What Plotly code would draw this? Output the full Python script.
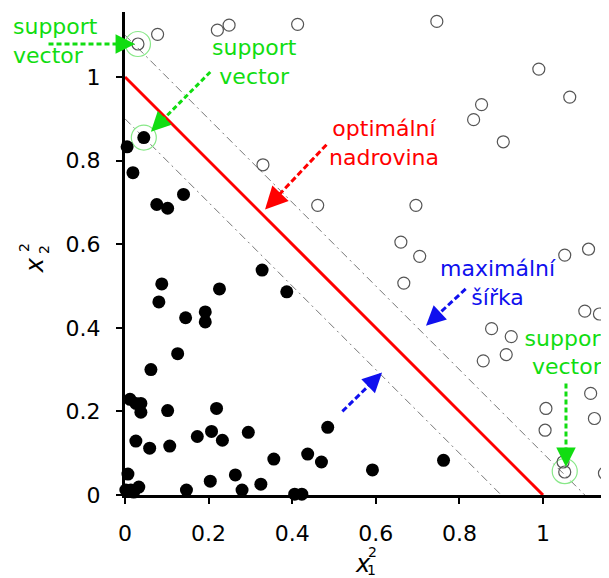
import math
import plotly.graph_objects as go

# ---------------- data ----------------
class1_x = [0.005, 0.045, 0.019, 0.076, 0.102, 0.140, 0.328, 0.387, 0.088, 0.081, 0.226, 0.145,
            0.192, 0.192, 0.126, 0.062, 0.012, 0.026, 0.038, 0.038, 0.102, 0.219, 0.026, 0.059,
            0.107, 0.173, 0.207, 0.233, 0.007, 0.204, 0.147, 0.002, 0.014, 0.021, 0.033, 0.264,
            0.295, 0.485, 0.356, 0.437, 0.470, 0.280, 0.325, 0.406, 0.423, 0.592, 0.762]
class1_y = [0.833, 0.855, 0.771, 0.695, 0.686, 0.719, 0.538, 0.486, 0.505, 0.462, 0.493, 0.424,
            0.438, 0.414, 0.338, 0.300, 0.229, 0.219, 0.219, 0.198, 0.202, 0.207, 0.129, 0.112,
            0.117, 0.140, 0.152, 0.131, 0.050, 0.033, 0.012, 0.012, 0.012, 0.007, 0.019, 0.048,
            0.150, 0.162, 0.086, 0.098, 0.079, 0.012, 0.026, 0.002, 0.002, 0.060, 0.083]

class2_x = [0.031, 0.078, 0.221, 0.249, 0.413, 0.746, 0.990, 1.064, 0.853, 0.834, 0.905, 0.330,
            0.461, 0.696, 0.660, 0.705, 0.667, 1.052, 1.109, 1.100, 1.135, 0.877, 0.924, 0.857,
            0.912, 1.114, 1.123, 1.007, 1.005, 1.048, 1.052, 1.147]
class2_y = [1.079, 1.102, 1.112, 1.124, 1.126, 1.133, 1.019, 0.952, 0.934, 0.898, 0.845, 0.790,
            0.693, 0.693, 0.605, 0.571, 0.507, 0.574, 0.588, 0.440, 0.433, 0.398, 0.379, 0.321,
            0.336, 0.243, 0.183, 0.207, 0.155, 0.079, 0.055, 0.052]

support_x = [0.031, 0.045, 1.052]
support_y = [1.079, 0.855, 0.057]

hyperplane_c = 1.0          # x1^2 + x2^2 = c
margin_c = [0.9, 1.1]

tick_vals = [0, 0.2, 0.4, 0.6, 0.8, 1]
tick_text = ["0", "0.2", "0.4", "0.6", "0.8", "1"]

# ---------------- layout constants ----------------
# the page body has an 8px margin, so the figure is drawn 8px smaller
W, H = 601, 570
ML, MR, MT, MB = 117, 0, 4, 83
PW, PH = W - ML - MR, H - MT - MB
SCALE = 418.0
XMAX = PW / SCALE
YMAX = PH / SCALE
FONT = "DejaVu Sans"

GREEN = "#11dd11"
RED = "#ff0000"
BLUE = "#1010ee"

fig = go.Figure()

# margin lines (dash-dot) and hyperplane
for c in margin_c:
    fig.add_trace(go.Scatter(x=[0, c], y=[c, 0], mode="lines",
                             line=dict(color="#777777", width=1, dash="8px,4px,2px,4px"),
                             hoverinfo="skip", showlegend=False))
fig.add_trace(go.Scatter(x=[0, hyperplane_c], y=[hyperplane_c, 0], mode="lines",
                         line=dict(color=RED, width=3), hoverinfo="skip", showlegend=False))

# support vector rings
fig.add_trace(go.Scatter(x=support_x, y=support_y, mode="markers",
                         marker=dict(symbol="circle-open", size=25, color="#88e888",
                                     line=dict(width=1.2, color="#88e888")),
                         cliponaxis=False, showlegend=False, hoverinfo="skip"))

# class 2: open circles
fig.add_trace(go.Scatter(x=class2_x, y=class2_y, mode="markers",
                         marker=dict(symbol="circle-open", size=12, color="#555555",
                                     line=dict(width=1.2, color="#555555")),
                         cliponaxis=False, showlegend=False))
# class 1: filled
fig.add_trace(go.Scatter(x=class1_x, y=class1_y, mode="markers",
                         marker=dict(symbol="circle", size=13, color="black"),
                         cliponaxis=False, showlegend=False))


def px(x):
    return x / XMAX


def py(y):
    return y / YMAX


annotations = []
shapes = []


def arrow(tail, tip, color, head=19, width=3, dash="6px,4px", size=1.3):
    dx = (tip[0] - tail[0]) * SCALE
    dy = -(tip[1] - tail[1]) * SCALE
    L = math.hypot(dx, dy)
    ux, uy = dx / L, dy / L
    end_x = tip[0] - ux * (head - 3) / SCALE
    end_y = tip[1] + uy * (head - 3) / SCALE
    shapes.append(dict(type="line", xref="paper", yref="paper",
                       x0=px(tail[0]), y0=py(tail[1]), x1=px(end_x), y1=py(end_y),
                       line=dict(color=color, width=width, dash=dash)))
    annotations.append(dict(xref="paper", yref="paper", x=px(tip[0]), y=py(tip[1]),
                            ax=-ux * head, ay=-uy * head, text="", showarrow=True,
                            arrowhead=2, arrowsize=size, arrowwidth=width, arrowcolor=color))


def label(x, y, text, color, xanchor="center", align="center", size=22, angle=0):
    annotations.append(dict(xref="paper", yref="paper", x=px(x), y=py(y), text=text,
                            showarrow=False, xanchor=xanchor, yanchor="middle", align=align,
                            textangle=angle, font=dict(family=FONT, size=size, color=color)))


def text_trace(x, y, text, color, size=22, pos="middle center"):
    fig.add_trace(go.Scatter(x=[x], y=[y], mode="text", text=[text], textposition=pos,
                             textfont=dict(family=FONT, size=size, color=color),
                             cliponaxis=False, showlegend=False, hoverinfo="skip"))


label(-0.273, 1.086, "support<br>vector", GREEN, xanchor="left", align="left")
arrow((-0.183, 1.079), (0.024, 1.079), GREEN, dash="5px,3px")

label(0.311, 1.036, "support<br>vector", GREEN)
arrow((0.204, 1.012), (0.062, 0.869), GREEN, dash="5px,3px")

label(0.62, 0.843, "optimální<br>nadrovina", RED)
arrow((0.482, 0.838), (0.335, 0.683), RED, dash="6px,3px", size=1.5, head=22)

label(0.893, 0.507, "maximální<br>šířka", BLUE)
arrow((0.815, 0.493), (0.72, 0.405), BLUE, dash="6px,3px")
arrow((0.52, 0.2), (0.615, 0.293), BLUE, dash="6px,3px")

text_trace(1.057, 0.336, "support<br>vector", GREEN)
arrow((1.055, 0.267), (1.055, 0.067), GREEN, dash="5px,3px")

# axis titles x1^2 and x2^2 (stacked sub/superscripts)
label(0.569, -0.166, "<i>x</i>", "black", size=24)
label(0.591, -0.137, "2", "black", size=14)
label(0.589, -0.180, "1", "black", size=14)

label(-0.215, 0.55, "<i>x</i>", "black", size=24, angle=-90)
label(-0.243, 0.592, "2", "black", size=14, angle=-90)
label(-0.195, 0.587, "2", "black", size=14, angle=-90)

axis_common = dict(showgrid=False, zeroline=False, showline=True, linecolor="black", linewidth=3,
                   ticks="outside", ticklen=6, tickwidth=2, tickcolor="black",
                   tickvals=tick_vals, ticktext=tick_text, automargin=False,
                   tickfont=dict(family=FONT, size=22, color="black"))

fig.update_layout(
    width=W, height=H, margin=dict(l=ML, r=MR, t=MT, b=MB, pad=0, autoexpand=False),
    paper_bgcolor="white", plot_bgcolor="white",
    xaxis=dict(range=[0, XMAX], ticklabelstandoff=11, **axis_common),
    yaxis=dict(range=[0, YMAX], ticklabelstandoff=11, **axis_common),
    annotations=annotations, shapes=shapes, showlegend=False,
)

fig.write_html("out.html")
